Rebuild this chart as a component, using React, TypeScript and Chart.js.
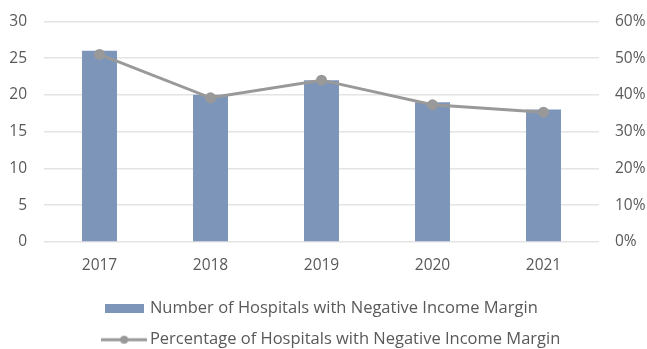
import { useEffect, useRef } from "react";
import { Chart, registerables } from "chart.js";

Chart.register(...registerables);

const years = ["2017", "2018", "2019", "2020", "2021"];
const hospitalCounts = [26, 20, 22, 19, 18];
const hospitalPercents = [51, 39.2, 44, 37.3, 35.3];
const barLabel = "Number of Hospitals with Negative Income Margin";
const lineLabel = "Percentage of Hospitals with Negative Income Margin";

const BAR_COLOR = "#7d95b8";
const LINE_COLOR = "#999999";
const TEXT_COLOR = "#595959";
const FONT = "'Open Sans', sans-serif";

function makeBarIcon() {
  const c = document.createElement("canvas");
  c.width = 39;
  c.height = 9;
  const ctx = c.getContext("2d")!;
  ctx.fillStyle = BAR_COLOR;
  ctx.fillRect(0, 0, 39, 9);
  return c;
}

function makeLineIcon() {
  const c = document.createElement("canvas");
  c.width = 46;
  c.height = 10;
  const ctx = c.getContext("2d")!;
  ctx.strokeStyle = LINE_COLOR;
  ctx.lineWidth = 3;
  ctx.beginPath();
  ctx.moveTo(0, 5);
  ctx.lineTo(46, 5);
  ctx.stroke();
  ctx.fillStyle = LINE_COLOR;
  ctx.beginPath();
  ctx.arc(23, 5, 4, 0, Math.PI * 2);
  ctx.fill();
  return c;
}

// Excel-style legend: all rows share the same left edge
const alignLegendRows = {
  id: "alignLegendRows",
  afterLayout(chart: any) {
    const lg = chart.legend;
    if (lg && lg.lineWidths && lg.lineWidths.length) {
      const m = Math.max(...lg.lineWidths);
      lg.lineWidths = lg.lineWidths.map(() => m - 20);
    }
  },
};

export default function App() {
  const ref = useRef<HTMLCanvasElement | null>(null);

  useEffect(() => {
    document.body.style.margin = "0";
    const barIcon = makeBarIcon();
    const lineIcon = makeLineIcon();
    const chart = new Chart(ref.current!, {
      type: "bar",
      data: {
        labels: years,
        datasets: [
          {
            type: "line",
            label: lineLabel,
            data: hospitalPercents,
            yAxisID: "y1",
            borderColor: LINE_COLOR,
            backgroundColor: LINE_COLOR,
            borderWidth: 3,
            pointRadius: 4,
            pointBackgroundColor: LINE_COLOR,
            pointBorderColor: LINE_COLOR,
            tension: 0,
            order: 0,
          } as any,
          {
            type: "bar",
            label: barLabel,
            data: hospitalCounts,
            yAxisID: "y",
            backgroundColor: BAR_COLOR,
            categoryPercentage: 1,
            barPercentage: 0.315,
            order: 1,
          },
        ],
      },
      options: {
        animation: false,
        responsive: true,
        maintainAspectRatio: false,
        layout: { padding: { top: 7, left: 0, right: 0, bottom: -9 } },
        plugins: {
          tooltip: { enabled: false },
          legend: {
            position: "bottom",
            labels: {
              color: TEXT_COLOR,
              font: { family: FONT, size: 16.5 },
              usePointStyle: true,
              pointStyleWidth: 35,
              boxHeight: 10,
              padding: 14.5,
              generateLabels: () => [
                {
                  text: barLabel,
                  pointStyle: barIcon as any,
                  fillStyle: BAR_COLOR,
                  strokeStyle: BAR_COLOR,
                  lineWidth: 0,
                  hidden: false,
                  datasetIndex: 1,
                  fontColor: TEXT_COLOR,
                },
                {
                  text: lineLabel,
                  pointStyle: lineIcon as any,
                  fillStyle: LINE_COLOR,
                  strokeStyle: LINE_COLOR,
                  lineWidth: 0,
                  hidden: false,
                  datasetIndex: 0,
                  fontColor: TEXT_COLOR,
                },
              ],
            },
          },
        },
        scales: {
          x: {
            grid: { display: false },
            border: { display: false },
            ticks: { color: TEXT_COLOR, font: { family: FONT, size: 15.5 }, padding: 6.5 },
            afterFit: (s: any) => {
              s.height = 44;
            },
          },
          y: {
            position: "left",
            min: 0,
            max: 30,
            ticks: { stepSize: 5, color: TEXT_COLOR, font: { family: FONT, size: 15.5 }, padding: 17 },
            grid: { color: "#e4e4e4", lineWidth: 1.5, drawTicks: false },
            border: { display: false },
            afterFit: (s: any) => {
              s.width = 44;
            },
          },
          y1: {
            position: "right",
            min: 0,
            max: 60,
            ticks: {
              stepSize: 10,
              color: TEXT_COLOR,
              font: { family: FONT, size: 15.5 },
              padding: 16,
              callback: (v: any) => v + "%",
            },
            grid: { display: false, drawTicks: false },
            border: { display: false },
            afterFit: (s: any) => {
              s.width = 48;
            },
          },
        },
      },
      plugins: [alignLegendRows],
    });
    return () => chart.destroy();
  }, []);

  return (
    <div style={{ width: 647, height: 354, marginTop: -5, position: "relative" }}>
      <canvas ref={ref} />
    </div>
  );
}
